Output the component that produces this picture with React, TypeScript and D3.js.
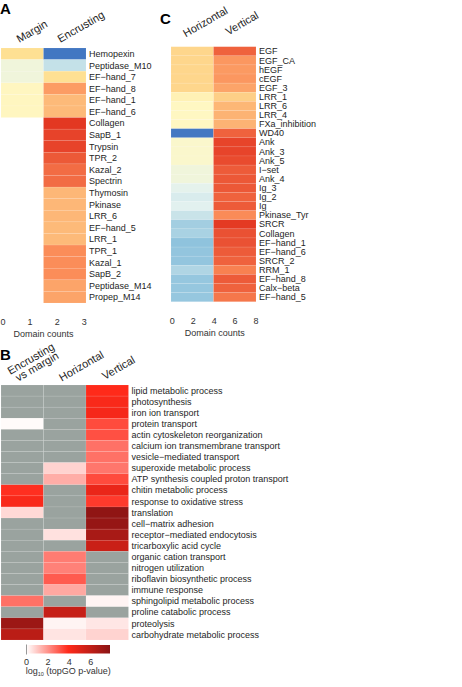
import React, { useEffect, useRef } from 'react';
import * as d3 from 'd3';

// Panel A: domain counts, margin vs encrusting
const domainsA = [
  'Hemopexin', 'Peptidase_M10', 'EF\u2212hand_7', 'EF\u2212hand_8', 'EF\u2212hand_1', 'EF\u2212hand_6',
  'Collagen', 'SapB_1', 'Trypsin', 'TPR_2', 'Kazal_2', 'Spectrin', 'Thymosin', 'Pkinase',
  'LRR_6', 'EF\u2212hand_5', 'LRR_1', 'TPR_1', 'Kazal_1', 'SapB_2', 'Peptidase_M14', 'Propep_M14',
];
const marginCounts: (number | null)[] = [
  2.2, 1.35, 1.35, 1.7, 1.7, 1.7, null, null, null, null, null,
  null, null, null, null, null, null, null, null, null, null, null,
];
const encrustingCounts: (number | null)[] = [
  0.05, 0.9, 2.2, 2.65, 2.45, 2.45, 3.27, 3.2, 3.2, 3.07, 2.95,
  2.95, 2.47, 2.47, 2.47, 2.45, 2.45, 2.75, 2.75, 2.75, 2.6, 2.6,
];
const countTicksA = [0, 1, 2, 3];

// Panel C: domain counts, horizontal vs vertical
const domainsC = [
  'EGF', 'EGF_CA', 'hEGF', 'cEGF', 'EGF_3', 'LRR_1', 'LRR_6', 'LRR_4', 'FXa_inhibition', 'WD40',
  'Ank', 'Ank_3', 'Ank_5', 'I\u2212set', 'Ank_4', 'Ig_3', 'Ig_2', 'Ig', 'Pkinase_Tyr', 'SRCR',
  'Collagen', 'EF\u2212hand_1', 'EF\u2212hand_6', 'SRCR_2', 'RRM_1', 'EF\u2212hand_8', 'Calx\u2212beta', 'EF\u2212hand_5',
];
const horizontalCounts: (number | null)[] = [
  5.5, 5.5, 5.5, 5.5, 5.5, 4.4, 4.05, 4.05, 4.05, 0.15,
  3.75, 3.75, 3.75, 3.3, 3.3, 2.75, 2.5, 2.65, 2.25, 1.65,
  1.75, 1.33, 1.4, 1.4, 1.85, 1.45, 1.45, 1.45,
];
const verticalCounts: (number | null)[] = [
  7.3, 6.5, 6.45, 6.5, 6.3, 5.6, 6.0, 6.05, 6.05, 7.3,
  7.75, 7.75, 7.65, 7.4, 7.45, 7.45, 7.3, 7.4, 6.7, 7.9,
  7.55, 7.55, 7.4, 7.3, 6.85, 7.4, 7.3, 7.0,
];
const countTicksC = [0, 2, 4, 6, 8];

// Panel B: GO enrichment, log10(topGO p-value); null = not enriched
const goTerms = [
  'lipid metabolic process', 'photosynthesis', 'iron ion transport', 'protein transport',
  'actin cytoskeleton reorganization', 'calcium ion transmembrane transport', 'vesicle\u2212mediated transport',
  'superoxide metabolic process', 'ATP synthesis coupled proton transport', 'chitin metabolic process',
  'response to oxidative stress', 'translation', 'cell\u2212matrix adhesion', 'receptor\u2212mediated endocytosis',
  'tricarboxylic acid cycle', 'organic cation transport', 'nitrogen utilization',
  'riboflavin biosynthetic process', 'immune response', 'sphingolipid metabolic process',
  'proline catabolic process', 'proteolysis', 'carbohydrate metabolic process',
];
const encVsMarginGO: (number | null)[] = [
  null, null, null, 0.08, null, null, null, null, null, 3.8, 4.1, 0.7,
  null, null, null, null, null, null, null, 2.6, null, 7.2, 6.2,
];
const horizontalGO: (number | null)[] = [
  null, null, null, null, null, null, null, 0.8, 1.5, null, null, null,
  null, 0.55, null, 2.4, 2.3, 3.0, 1.6, null, 5.8, 0.2, 0.5,
];
const verticalGO: (number | null)[] = [
  3.9, 4.1, 4.2, 3.3, 3.2, 2.6, 2.6, 2.5, 3.3, 4.6, 3.6, 7.6,
  7.4, 6.8, 5.7, null, null, null, null, 0.2, null, 0.45, 0.8,
];
const pvalTicks = [0, 2, 4, 6];

const W = 462;
const H = 687;
const FONT = '"Liberation Sans", Arial, Helvetica, sans-serif';
const NA_GREY = '#9aa39f';
const countPalette = ['#3a6fbf', '#8fc3dd', '#e3f2ef', '#fff8c4', '#fee093', '#fb8d59', '#e2331f'];

type Sel = d3.Selection<SVGGElement, unknown, null, undefined>;

function countScale(max: number) {
  return d3.scaleLinear<string>()
    .domain(countPalette.map((_, i) => (max * i) / (countPalette.length - 1)))
    .range(countPalette)
    .clamp(true);
}

function drawHeatmap(
  g: Sel,
  rows: string[],
  series: (number | null)[][],
  opts: { x: number; top: number; bottom: number; colW: number; color: (v: number) => string; na: string | null },
) {
  const y = d3.scaleBand<string>().domain(rows).range([opts.top, opts.bottom]);
  const x = d3.scaleBand<number>().domain(d3.range(series.length))
    .range([opts.x, opts.x + opts.colW * series.length]);

  series.forEach((vals, ci) => {
    g.append('g').selectAll('rect')
      .data(vals.map((v, i) => ({ v, row: rows[i] })).filter(d => d.v !== null || opts.na))
      .enter().append('rect')
      .attr('x', x(ci)!)
      .attr('y', d => y(d.row)!)
      .attr('width', x.bandwidth())
      .attr('height', y.bandwidth())
      .attr('fill', d => (d.v === null ? (opts.na as string) : opts.color(d.v)))
      .attr('stroke', '#ffffff')
      .attr('stroke-opacity', 0.18)
      .attr('stroke-width', 0.5);
  });

  g.append('g').selectAll('text')
    .data(rows)
    .enter().append('text')
    .attr('x', opts.x + opts.colW * series.length + 3)
    .attr('y', d => y(d)! + y.bandwidth() / 2)
    .attr('dy', '0.35em')
    .style('font-size', '9px')
    .style('font-family', FONT)
    .style('fill', '#1e1e1e')
    .text(d => d);

  return { x, y };
}

function header(g: Sel, text: string, x: number, y: number) {
  g.append('text')
    .attr('transform', `translate(${x},${y}) rotate(-30)`)
    .style('font-size', '11px')
    .style('font-family', FONT)
    .style('fill', '#262626')
    .text(text);
}

function panelLetter(g: Sel, text: string, x: number, y: number) {
  g.append('text')
    .attr('x', x).attr('y', y)
    .style('font-size', '15px')
    .style('font-weight', 'bold')
    .style('font-family', FONT)
    .style('fill', '#000')
    .text(text);
}

function countAxis(g: Sel, ticks: number[], scale: d3.ScaleLinear<number, number>, y: number, titleX: number) {
  g.append('g').selectAll('text')
    .data(ticks)
    .enter().append('text')
    .attr('x', d => scale(d))
    .attr('y', y)
    .attr('text-anchor', 'middle')
    .style('font-size', '9px')
    .style('font-family', FONT)
    .style('fill', '#333')
    .text(d => d);
  g.append('text')
    .attr('x', titleX)
    .attr('y', y + 11.5)
    .attr('text-anchor', 'middle')
    .style('font-size', '9px')
    .style('font-family', FONT)
    .style('fill', '#333')
    .text('Domain counts');
}

const App: React.FC = () => {
  const svgRef = useRef<SVGSVGElement | null>(null);

  useEffect(() => {
    if (!svgRef.current) return;
    const svg = d3.select(svgRef.current);
    svg.selectAll('*').remove();
    const root = svg.append('g') as unknown as Sel;

    // ---- A ----
    panelLetter(root, 'A', 0, 14);
    const a = drawHeatmap(root, domainsA, [marginCounts, encrustingCounts], {
      x: 1, top: 48, bottom: 303, colW: 42.5, color: countScale(3.3), na: null,
    });
    header(root, 'Margin', a.x(0)! + a.x.bandwidth() / 2 - 3, 43);
    header(root, 'Encrusting', a.x(1)! + a.x.bandwidth() / 2 - 4.5, 43);
    countAxis(root, countTicksA, d3.scaleLinear().domain([0, 3]).range([3, 84.3]), 325, 43.5);

    // ---- C ----
    panelLetter(root, 'C', 160, 24);
    const c = drawHeatmap(root, domainsC, [horizontalCounts, verticalCounts], {
      x: 171, top: 46.7, bottom: 301.7, colW: 42.5, color: countScale(8), na: null,
    });
    header(root, 'Horizontal', c.x(0)! + c.x.bandwidth() / 2 - 6.5, 37.5);
    header(root, 'Vertical', c.x(1)! + c.x.bandwidth() / 2 - 6.5, 35.5);
    countAxis(root, countTicksC, d3.scaleLinear().domain([0, 8]).range([172.3, 256]), 324, 214.7);

    // ---- B ----
    panelLetter(root, 'B', 0, 360);
    const goColor = d3.scaleLinear<string>()
      .domain([0, 3.9, 7.8])
      .range(['#ffffff', '#ff2a1a', '#8a1414'])
      .clamp(true);
    const b = drawHeatmap(root, goTerms, [encVsMarginGO, horizontalGO, verticalGO], {
      x: 1, top: 385, bottom: 640, colW: 42.5, color: goColor, na: NA_GREY,
    });
    header(root, 'Encrusting', b.x(0)! + b.x.bandwidth() / 2 - 12, 375);
    header(root, 'vs margin', b.x(0)! + b.x.bandwidth() / 2 - 4, 381.7);
    header(root, 'Horizontal', b.x(1)! + b.x.bandwidth() / 2 - 3, 381.7);
    header(root, 'Vertical', b.x(2)! + b.x.bandwidth() / 2 - 2.5, 380);

    // colour key
    const legendX = d3.scaleLinear().domain([0, 7.8]).range([26.5, 110]);
    const defs = svg.append('defs');
    const grad = defs.append('linearGradient').attr('id', 'go-grad')
      .attr('x1', '0%').attr('x2', '100%').attr('y1', '0%').attr('y2', '0%');
    d3.range(0, 1.0001, 0.05).forEach(t => {
      grad.append('stop')
        .attr('offset', `${t * 100}%`)
        .attr('stop-color', goColor(t * 7.8));
    });
    root.append('rect')
      .attr('x', legendX(0)).attr('y', 645)
      .attr('width', legendX(7.8) - legendX(0)).attr('height', 8.5)
      .attr('fill', 'url(#go-grad)');
    root.append('line')
      .attr('x1', legendX(0)).attr('x2', legendX(0))
      .attr('y1', 644.5).attr('y2', 654.5)
      .attr('stroke', '#999').attr('stroke-width', 1);
    root.append('g').selectAll('text')
      .data(pvalTicks)
      .enter().append('text')
      .attr('x', d => legendX(d))
      .attr('y', 665)
      .attr('text-anchor', 'middle')
      .style('font-size', '9px')
      .style('font-family', FONT)
      .style('fill', '#333')
      .text(d => d);
    const title = root.append('text')
      .attr('x', 68.3).attr('y', 674)
      .attr('text-anchor', 'middle')
      .style('font-size', '9px')
      .style('font-family', FONT)
      .style('fill', '#333');
    title.append('tspan').text('log');
    title.append('tspan').attr('dy', 2).style('font-size', '5.5px').text('10');
    title.append('tspan').attr('dy', -2).text(' (topGO p-value)');
  }, []);

  return (
    <svg
      ref={svgRef}
      width={W}
      height={H}
      style={{ position: 'absolute', left: 0, top: 0, background: '#fff' }}
    />
  );
};

export default App;
